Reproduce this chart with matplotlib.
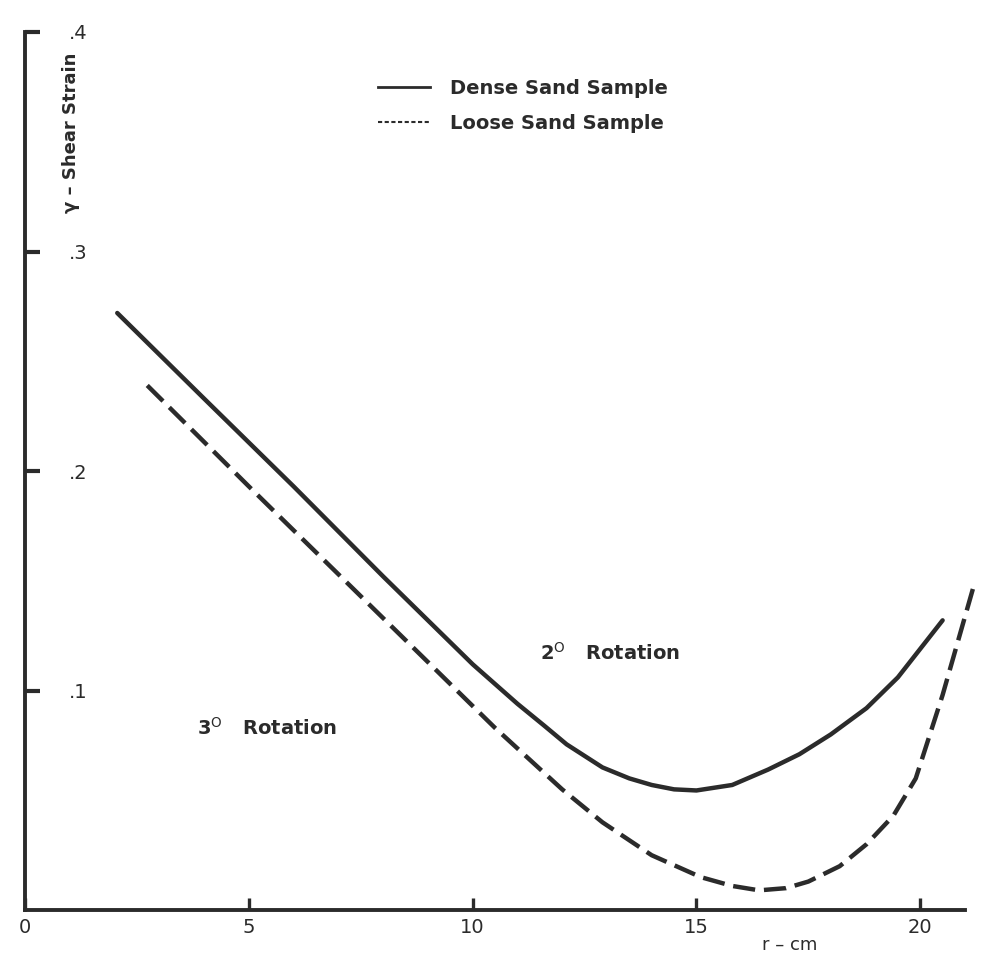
import matplotlib.pyplot as plt
from matplotlib.lines import Line2D

# values (r in cm, shear strain)
dense_r = [2.06, 4.0, 6.0, 8.0, 10.0, 11.0, 11.6, 12.1, 12.9, 13.5, 14.0, 14.5, 15.0, 15.8, 16.6, 17.3, 18.0, 18.8, 19.5, 20.5]
dense_strain = [0.272, 0.233, 0.193, 0.152, 0.112, 0.094, 0.084, 0.0755, 0.065, 0.060, 0.057, 0.055, 0.0545, 0.057, 0.064, 0.071, 0.080, 0.092, 0.106, 0.132]

loose_r = [2.73, 5.0, 7.0, 9.0, 10.5, 12.0, 12.9, 14.0, 15.1, 15.8, 16.4, 17.0, 17.5, 18.2, 18.8, 19.4, 19.9, 20.5, 21.2]
loose_strain = [0.239, 0.193, 0.153, 0.113, 0.083, 0.055, 0.040, 0.025, 0.015, 0.011, 0.009, 0.010, 0.013, 0.020, 0.030, 0.043, 0.060, 0.098, 0.148]

x_ticks = [0, 5, 10, 15, 20]
x_tick_labels = ["0", "5", "10", "15", "20"]
y_ticks = [0.1, 0.2, 0.3, 0.4]
y_tick_labels = [".1", ".2", ".3", ".4"]

ink = "#2b2b2b"

fig = plt.figure(figsize=(9.86, 9.58), dpi=100)
ax = fig.add_axes([0.0254, 0.050, 0.9533, 0.9166])

ax.plot(dense_r, dense_strain, color=ink, lw=3.2, solid_capstyle="round",
        solid_joinstyle="round", clip_on=False)
ax.plot(loose_r, loose_strain, color=ink, lw=3.2, ls=(0, (5, 2)), clip_on=False)

ax.set_xlim(0, 21)
ax.set_ylim(0, 0.4)

for side in ["top", "right"]:
    ax.spines[side].set_visible(False)
for side in ["left", "bottom"]:
    ax.spines[side].set_linewidth(2.8)
    ax.spines[side].set_color(ink)

ax.set_xticks(x_ticks)
ax.set_xticklabels(x_tick_labels)
ax.set_yticks(y_ticks)
ax.set_yticklabels(y_tick_labels)
ax.tick_params(axis="x", direction="in", length=9, width=2.4, color=ink,
               labelsize=14, labelcolor=ink, pad=6)
ax.tick_params(axis="y", direction="in", length=11, width=3, color=ink,
               labelsize=14, labelcolor=ink, pad=-45)

ax.set_ylabel("γ – Shear Strain", fontsize=13, fontweight="bold", color=ink)
ax.yaxis.set_label_coords(0.058, 0.885)
ax.set_xlabel("r – cm", fontsize=13, color=ink)
ax.xaxis.set_label_coords(0.814, -0.029)

handles = [Line2D([], [], color=ink, lw=2),
           Line2D([], [], color=ink, lw=1.5, ls=(0, (2, 1.2)))]
ax.legend(handles, ["Dense Sand Sample", "Loose Sand Sample"],
          loc="upper left", bbox_to_anchor=(0.3755, 0.947), frameon=False,
          borderpad=0, borderaxespad=0, handlelength=2.7, handletextpad=1.0,
          labelspacing=0.85, prop={"size": 14, "weight": "bold"}, labelcolor=ink)

ax.text(11.5, 0.117, r"2$^{\mathrm{O}}$   Rotation", fontsize=14, fontweight="bold",
        color=ink, va="center")
ax.text(3.85, 0.083, r"3$^{\mathrm{O}}$   Rotation", fontsize=14, fontweight="bold",
        color=ink, va="center")

plt.savefig("out.png", dpi=100)
